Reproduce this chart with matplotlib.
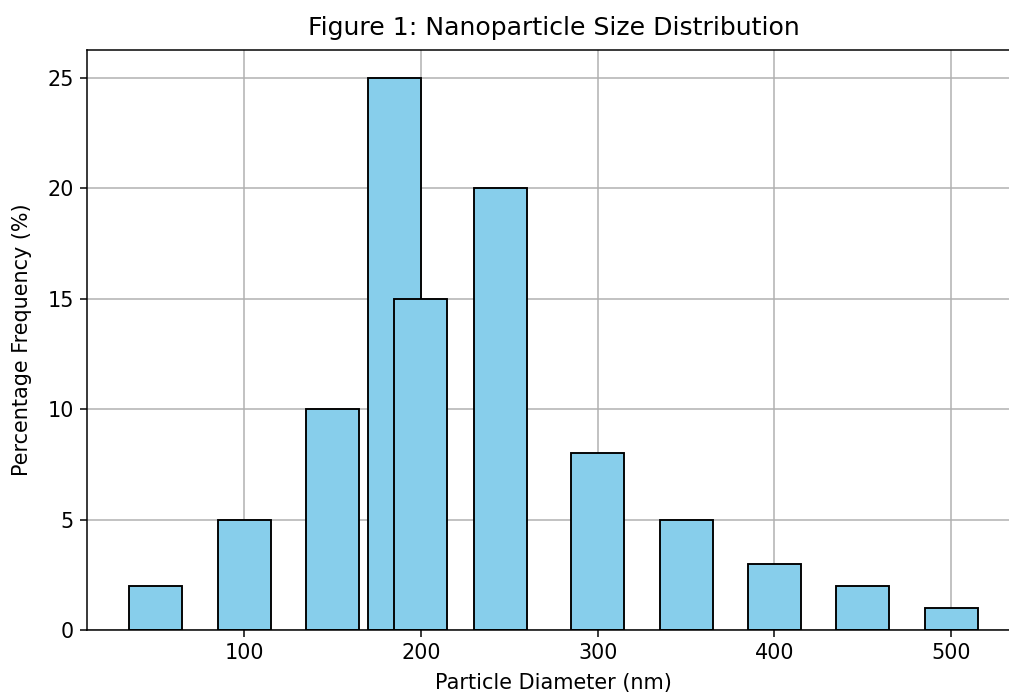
import matplotlib
matplotlib.use("Agg")
import matplotlib.pyplot as plt

# particle size bins (nm) and their share of the sample
diameters = [50, 100, 150, 185, 200, 245, 300, 350, 400, 450, 500]
frequency = [2, 5, 10, 25, 15, 20, 8, 5, 3, 2, 1]

dpi = 136
fig = plt.figure(figsize=(1009 / dpi, 693 / dpi), dpi=dpi)
# the reference is cropped on the right, so the axes run past the edge
ax = fig.add_axes([87 / 1009, 63 / 693, 933 / 1009, 580 / 693])

ax.bar(diameters, frequency, width=30, color='skyblue', edgecolor='black', linewidth=1)
ax.set_axisbelow(True)
ax.grid(True)
ax.tick_params(labelsize=11)

ax.set_title('Figure 1: Nanoparticle Size Distribution', fontsize=13.3, pad=8)
ax.set_xlabel('Particle Diameter (nm)', fontsize=11, labelpad=5)
ax.set_ylabel('Percentage Frequency (%)', fontsize=11, labelpad=8)

fig.savefig('out.png', dpi=dpi)
